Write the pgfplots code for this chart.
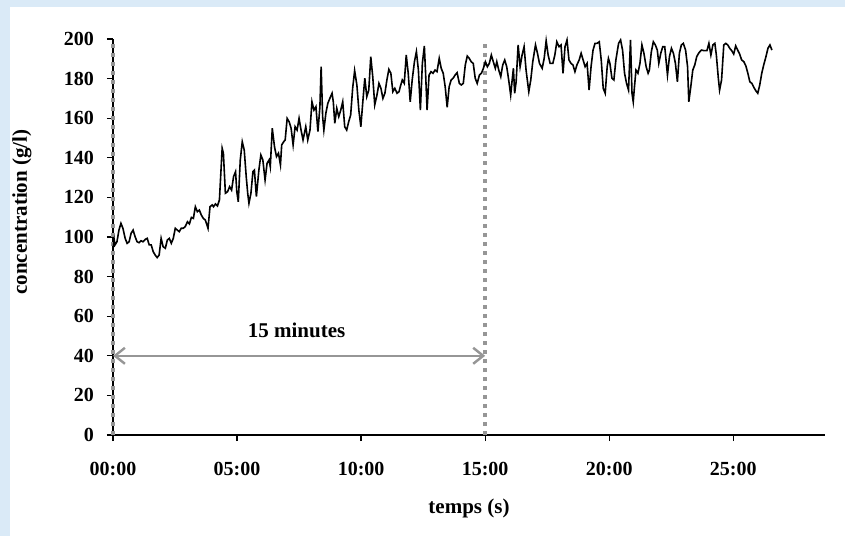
\documentclass[border=0pt]{standalone}
\usepackage{pgfplots}
\pgfplotsset{compat=1.18}
\usepackage{fontspec}
\setmainfont{Liberation Serif}
\usetikzlibrary{arrows.meta}
\definecolor{bgblue}{RGB}{218,234,247}
\definecolor{dotgray}{RGB}{150,150,150}

\begin{document}
\begin{tikzpicture}
\useasboundingbox (0,0) rectangle (422.5pt,268pt);
\fill[bgblue] (0,0) rectangle (422.5pt,268pt);
\fill[white] (5pt,0) rectangle (422.5pt,264.5pt);
\begin{axis}[
 at={(56.5pt,50.5pt)}, anchor=south west,
 scale only axis, width=356pt, height=198pt,
 xmin=0, xmax=28.7, ymin=0, ymax=200,
 axis x line=bottom, axis y line=left, axis line style={-, line width=0.6pt},
 xtick={0,5,10,15,20,25}, xticklabels={00:00,05:00,10:00,15:00,20:00,25:00},
 ytick={0,20,...,200},
 tick align=outside, major tick length=3pt, tick style={black, line width=0.6pt},
 ticklabel style={font=\bfseries\fontsize{10}{12}\selectfont},
 /pgf/number format/assume math mode=true,
 xticklabel style={yshift=-7pt},
 yticklabel style={xshift=-3pt},
 xlabel={temps (s)}, ylabel={concentration (g/l)},
 label style={font=\bfseries\fontsize{10.5}{12}\selectfont},
 xlabel style={at={(axis description cs:0.5,-0.185)}, anchor=center},
 ylabel style={at={(axis description cs:-0.128,0.563)}, anchor=center},
 clip=false,
]
\addplot[dotgray, line width=2pt, dash pattern=on 2pt off 2.5pt] coordinates {(0,0) (0,200)};
\addplot[dotgray, line width=2pt, dash pattern=on 2pt off 2.5pt] coordinates {(15,0) (15,200)};
\draw[dotgray, line width=1.2pt, {Straight Barb[length=5pt,width=8pt]}-{Straight Barb[length=5pt,width=8pt]}] (axis cs:0,40) -- (axis cs:15,40);
\node[font=\bfseries\fontsize{10.5}{12}\selectfont] at (axis cs:7.4,53) {15 minutes};
\addplot[black, line width=0.8pt, mark=none] table {
0 94.3
0.05 98.5
0.08 96
0.16 97.6
0.24 103.5
0.32 106.9
0.40 104.4
0.49 99.3
0.57 96.8
0.65 97.6
0.73 101.9
0.81 103.5
0.89 100.2
0.97 97.6
1.05 97.1
1.13 98.1
1.21 97.6
1.30 98.8
1.38 99.3
1.46 96
1.54 96
1.62 92.6
1.70 90.9
1.78 89.6
1.86 90.9
1.94 99.3
2.02 95.1
2.11 94.3
2.19 98.5
2.27 99.3
2.35 96.8
2.43 99.3
2.51 104.4
2.59 103.5
2.67 102.7
2.75 104.4
2.83 104.4
2.91 105.2
3.00 107.7
3.08 106.6
3.16 109.9
3.24 109.4
3.32 115.3
3.40 112.8
3.48 113.6
3.56 111.1
3.64 109.4
3.72 108.6
3.83 104.4
3.91 115.3
4.00 116.2
4.05 115.3
4.13 116.7
4.21 115.7
4.29 118.7
4.40 144.8
4.45 142.3
4.53 122.1
4.62 122.9
4.70 125.4
4.78 123.7
4.86 130.5
4.94 133
4.99 122.9
5.05 117.8
5.13 138.9
5.21 148.1
5.29 143.9
5.37 130.5
5.43 122.1
5.48 117
5.56 122.1
5.64 133
5.70 133.8
5.78 120.4
5.88 133.8
5.96 141.4
6.04 138.9
6.13 128.8
6.21 137.2
6.29 138.9
6.34 135.5
6.42 154.9
6.51 145.6
6.59 140.6
6.67 142.3
6.75 136.4
6.80 146.5
6.88 148.1
6.94 149
7.02 159.9
7.10 158.2
7.18 154.9
7.26 146.5
7.34 155.7
7.42 154
7.50 159.9
7.58 154
7.66 149
7.77 155.7
7.85 149
7.94 154
8.02 168.3
8.10 164.1
8.18 165.8
8.26 153.2
8.34 165.8
8.39 186
8.45 160.8
8.50 154
8.58 162.5
8.66 167.5
8.74 170
8.83 172.6
8.88 168.3
8.94 157.4
9.02 165
9.10 160.8
9.18 164.1
9.26 168.3
9.34 155.7
9.42 154
9.50 158.2
9.58 161.6
9.66 175.1
9.74 184
9.83 176.8
9.91 164.1
9.99 155.7
10.07 168.3
10.15 180.2
10.23 170.9
10.31 174.2
10.39 191.1
10.47 181
10.55 166.7
10.64 171.7
10.72 177.6
10.80 175.1
10.88 170
10.96 172.6
11.04 179.3
11.12 184.7
11.20 182.7
11.28 173.4
11.36 175.1
11.45 172.6
11.53 173.4
11.58 175.9
11.66 179.3
11.74 177.6
11.82 191.9
11.90 182.7
11.98 168.3
12.06 179.3
12.15 188.5
12.23 193.6
12.31 184.3
12.39 164.1
12.47 187.7
12.55 196.5
12.60 182.7
12.66 164.1
12.74 181.8
12.82 183.5
12.90 182.7
12.98 184.3
13.06 183.5
13.15 190.2
13.23 185.2
13.31 182.7
13.39 175.9
13.47 165.5
13.55 175.9
13.63 179.3
13.71 180.2
13.79 181.8
13.87 183
13.96 177.6
14.04 176.8
14.12 177.6
14.20 186.9
14.28 191.4
14.36 190.2
14.44 188.5
14.52 187.7
14.60 180.2
14.68 177.6
14.77 181.8
14.85 182.7
14.93 185.2
15.01 188.5
15.09 186
15.17 187.7
15.25 191.9
15.33 188.5
15.41 185.2
15.47 188.5
15.55 184.3
15.63 181
15.71 186.9
15.79 189.4
15.87 186
15.95 179.3
16.03 171.7
16.09 179.3
16.14 185.2
16.19 172.6
16.25 178.4
16.33 197
16.41 186
16.49 191.9
16.57 196.1
16.65 184.3
16.76 173.4
16.84 179.3
16.92 188.5
17.03 197
17.11 192.8
17.19 187.7
17.30 185.2
17.38 190.2
17.46 199.1
17.54 191.9
17.62 187.7
17.73 187.7
17.81 191.9
17.89 198.6
17.98 196.1
18.06 197
18.14 182.7
18.22 196.1
18.30 199.5
18.38 189.4
18.46 187.7
18.54 186.9
18.62 183.5
18.70 186.9
18.79 189.4
18.87 192.8
18.95 189.4
19.03 186
19.11 187.7
19.19 174.2
19.27 186
19.35 194.4
19.43 197.8
19.51 197.8
19.60 198.6
19.68 189.4
19.76 175.1
19.84 172.6
19.92 186
19.97 190.2
20.03 187.7
20.11 180.2
20.19 179.3
20.27 189.4
20.38 197.8
20.46 199.5
20.54 194.4
20.62 182.7
20.70 177.6
20.78 174.2
20.86 199.5
20.92 172.6
20.97 168.3
21.02 175.9
21.08 184.3
21.16 182.7
21.24 187.7
21.32 197
21.40 192.8
21.49 186
21.57 182.7
21.62 184.3
21.70 193.6
21.78 198.6
21.86 197
21.94 194.4
22.00 187.7
22.08 192.8
22.16 196.1
22.24 196.1
22.35 181.8
22.43 191.1
22.51 195.3
22.59 192.8
22.67 187.7
22.75 178.4
22.83 192.8
22.91 197
22.99 197.8
23.08 194.4
23.16 186
23.21 168.3
23.29 175.9
23.37 184.3
23.45 186.9
23.53 191.1
23.62 193.1
23.72 194.4
23.83 194.1
23.94 194.1
24.02 197.8
24.10 191.9
24.18 197
24.26 197.8
24.32 191.9
24.40 180.2
24.45 174.2
24.53 179.3
24.62 197
24.70 197.8
24.78 197
24.86 195.3
24.94 194.1
25.02 192.4
25.10 196.5
25.18 194.4
25.26 192.4
25.34 189.4
25.43 188.5
25.51 186.4
25.59 182.7
25.67 178.4
25.75 177.6
25.83 175.6
25.91 173.9
25.99 172.6
26.07 176.8
26.15 182.7
26.23 186.9
26.32 191.1
26.40 195.3
26.48 197
26.56 194.4
};
\end{axis}
\end{tikzpicture}
\end{document}
